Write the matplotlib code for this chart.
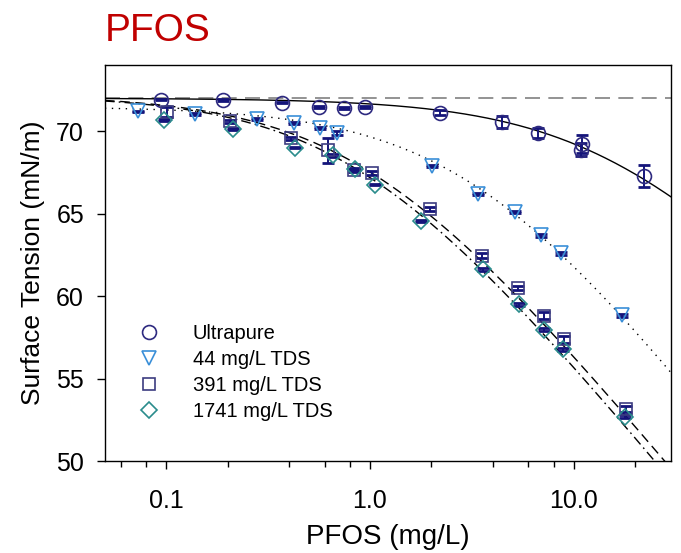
import numpy as np
import matplotlib
matplotlib.use("Agg")
import matplotlib.pyplot as plt

plt.rcParams['font.family'] = ['Liberation Sans', 'DejaVu Sans']

# =========================
# DATA
# =========================
labels = ["Ultrapure", "44 mg/L TDS", "391 mg/L TDS", "1741 mg/L TDS"]

x_ultra = [0.094, 0.189, 0.372, 0.562, 0.75, 0.946, 2.21, 4.43, 6.65, 11.0, 10.9, 22.1]
y_ultra = [71.92, 71.88, 71.74, 71.47, 71.41, 71.47, 71.13, 70.56, 69.88, 69.25, 68.89, 67.29]
e_ultra = [0.05, 0.05, 0.05, 0.08, 0.08, 0.08, 0.15, 0.35, 0.3, 0.55, 0.4, 0.65]

x_44 = [0.073, 0.138, 0.28, 0.426, 0.569, 0.69, 2.02, 3.41, 5.15, 6.91, 8.64, 17.3]
y_44 = [71.2, 71.05, 70.75, 70.5, 70.2, 69.9, 67.9, 66.2, 65.1, 63.7, 62.6, 58.85]
e_44 = [0.05, 0.05, 0.08, 0.08, 0.08, 0.1, 0.08, 0.08, 0.05, 0.08, 0.08, 0.08]

x_391 = [0.101, 0.206, 0.41, 0.621, 0.832, 1.026, 1.98, 3.55, 5.35, 7.14, 8.96, 18.0]
y_391 = [71.17, 70.61, 69.58, 68.85, 67.64, 67.47, 65.29, 62.45, 60.5, 58.83, 57.38, 53.17]
e_391 = [0.3, 0.1, 0.1, 0.75, 0.1, 0.1, 0.1, 0.15, 0.15, 0.2, 0.2, 0.2]

x_1741 = [0.098, 0.214, 0.43, 0.656, 0.849, 1.064, 1.79, 3.58, 5.38, 7.12, 8.9, 17.96]
y_1741 = [70.67, 70.12, 69.01, 68.55, 67.7, 66.77, 64.56, 61.64, 59.5, 57.98, 56.79, 52.69]
e_1741 = [0.05, 0.05, 0.05, 0.1, 0.05, 0.05, 0.05, 0.1, 0.1, 0.1, 0.1, 0.1]

# Szyszkowski fits: gamma = g0 - a*ln(1 + b*c)
fit_g0 = [72.0, 71.5, 72.2, 72.2]
fit_a = [5.57, 7.0, 6.50, 6.54]
fit_b = [0.064, 0.30, 1.05, 1.15]

WATER_ST = 72.0

# =========================
# STYLE
# =========================
colors = ["#2e2a80", "#3a8fd8", "#3c3c80", "#2a8c8c"]
markers = ["o", "v", "s", "D"]
msizes = [10, 10.5, 9, 8.5]
line_styles = ["-", (0, (1, 4)), (0, (7, 4)), (0, (7, 3, 1.2, 3))]
err_color = "#14147a"

fig = plt.figure(figsize=(6.81, 5.53), dpi=100)
ax = fig.add_axes([0.154, 0.166, 0.831, 0.716])

cfit = np.logspace(np.log10(0.05), np.log10(30), 400)
ax.axhline(WATER_ST, color="#808080", lw=1.2, ls=(0, (9, 5)), zorder=1)
for g0, a, b, ls in zip(fit_g0, fit_a, fit_b, line_styles):
    ax.plot(cfit, g0 - a * np.log(1 + b * cfit), color="black", lw=1.0, ls=ls, zorder=2)

series = [(x_ultra, y_ultra, e_ultra), (x_44, y_44, e_44),
          (x_391, y_391, e_391), (x_1741, y_1741, e_1741)]
handles = []
for (xs, ys, es), c, m, ms, lab in zip(series, colors, markers, msizes, labels):
    ax.errorbar(xs, ys, yerr=es, fmt="none", ecolor=err_color, elinewidth=1.4,
                capsize=4.5, capthick=2.0, zorder=3)
    h, = ax.plot(xs, ys, ls="none", marker=m, ms=ms, mfc="none", mec=c,
                 mew=1.2, zorder=4, label=lab)
    handles.append(h)

ax.set_xscale("log")
ax.set_xlim(0.05, 30)
ax.set_ylim(50, 74)
ax.set_yticks([50, 55, 60, 65, 70])
ax.set_xticks([0.1, 1, 10])
ax.set_xticklabels(["0.1", "1.0", "10.0"])
ax.xaxis.set_minor_locator(matplotlib.ticker.LogLocator(base=10, subs=[2, 4, 6, 8]))
ax.xaxis.set_minor_formatter(matplotlib.ticker.NullFormatter())
ax.tick_params(axis="both", which="major", direction="out", length=6, width=1,
               labelsize=18)
ax.tick_params(axis="x", which="major", pad=14)
ax.tick_params(axis="y", which="major", pad=9)
ax.tick_params(axis="x", which="minor", direction="out", length=4, width=1)
for sp in ax.spines.values():
    sp.set_linewidth(1.0)

ax.set_xlabel("PFOS (mg/L)", fontsize=20, labelpad=8)
ax.set_ylabel("Surface Tension (mN/m)", fontsize=19, labelpad=8)

leg = ax.legend(handles=handles, loc="lower left", bbox_to_anchor=(0.02, 0.055),
                frameon=False, fontsize=14.5, handletextpad=1.4, labelspacing=0.36,
                handlelength=1.5)

fig.text(0.154, 0.925, "PFOS", color="#c00000", fontsize=28, ha="left", va="baseline")

fig.savefig("out.png", dpi=100)
